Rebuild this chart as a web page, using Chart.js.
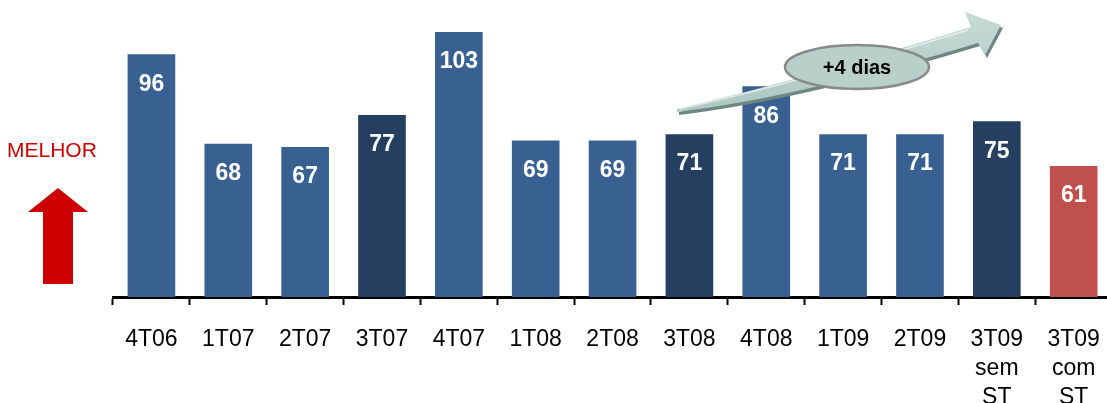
<!DOCTYPE html>
<html>
<head>
<meta charset="utf-8">
<script src="https://cdn.jsdelivr.net/npm/chart.js@4/dist/chart.umd.min.js"></script>
<style>
  html, body { margin: 0; padding: 0; background: #fff; overflow: hidden; }
  #wrap { width: 1107px; height: 403px; overflow: hidden; }
  canvas { display: block; }
</style>
</head>
<body>
<div id="wrap"><canvas id="prazoChart" width="1120" height="403"></canvas></div>
<script>
// Trimestres e valores (dias)
const trimestres = ['4T06', '1T07', '2T07', '3T07', '4T07', '1T08', '2T08', '3T08', '4T08', '1T09', '2T09',
    ['3T09', 'sem', 'ST'], ['3T09', 'com', 'ST']];
const dias = [96, 68, 67, 77, 103, 69, 69, 71, 86, 71, 71, 75, 61];
const tipoBarra = ['normal', 'normal', 'normal', 'terceiro', 'normal', 'normal', 'normal', 'terceiro',
    'normal', 'normal', 'normal', 'terceiro', 'destaque'];

const cores = { normal: '#386192', terceiro: '#253F61', destaque: '#C0504D' };

// Rótulos de valor dentro das barras
const rotulosValor = {
    id: 'rotulosValor',
    afterDatasetsDraw(chart) {
        const ctx = chart.ctx;
        const meta = chart.getDatasetMeta(0);
        ctx.save();
        ctx.fillStyle = '#fff';
        ctx.font = 'bold 23px "Liberation Sans", Arial, sans-serif';
        ctx.textAlign = 'center';
        ctx.textBaseline = 'middle';
        meta.data.forEach((bar, i) => {
            ctx.fillText(String(dias[i]), bar.x, bar.y + 30);
        });
        ctx.restore();
    }
};

// contorno da seta verde de tendência
function tracarSeta(ctx) {
    ctx.beginPath();
    ctx.moveTo(677, 109);
    ctx.quadraticCurveTo(800, 80, 971, 27);
    ctx.lineTo(965, 12);
    ctx.lineTo(1001, 25);
    ctx.lineTo(985, 55);
    ctx.lineTo(978, 43);
    ctx.quadraticCurveTo(800, 97, 677, 112);
    ctx.closePath();
}

// "MELHOR" com seta vermelha, e seta de tendência com "+4 dias"
const anotacoes = {
    id: 'anotacoes',
    afterDraw(chart) {
        const ctx = chart.ctx;
        ctx.save();

        ctx.fillStyle = '#CC0000';
        ctx.font = '21px "Liberation Sans", Arial, sans-serif';
        ctx.textAlign = 'left';
        ctx.textBaseline = 'middle';
        ctx.fillText('MELHOR', 7, 151);

        ctx.beginPath();
        ctx.moveTo(58, 188);
        ctx.lineTo(88, 212);
        ctx.lineTo(73, 212);
        ctx.lineTo(73, 284);
        ctx.lineTo(43, 284);
        ctx.lineTo(43, 212);
        ctx.lineTo(28, 212);
        ctx.closePath();
        ctx.fill();

        // sombra deslocada
        ctx.save();
        ctx.translate(2, 3);
        tracarSeta(ctx);
        ctx.fillStyle = '#6F8782';
        ctx.fill();
        ctx.restore();

        // corpo
        const grad = ctx.createLinearGradient(0, 20, 0, 112);
        grad.addColorStop(0, '#C4D9D3');
        grad.addColorStop(1, '#ADC7C1');
        tracarSeta(ctx);
        ctx.fillStyle = grad;
        ctx.fill();

        // reflexo claro no topo
        ctx.strokeStyle = 'rgba(255,255,255,0.6)';
        ctx.lineWidth = 1.5;
        ctx.beginPath();
        ctx.moveTo(680, 109);
        ctx.quadraticCurveTo(800, 82, 968, 30);
        ctx.stroke();

        // elipse
        ctx.beginPath();
        ctx.ellipse(857, 67, 72, 22, 0, 0, Math.PI * 2);
        ctx.fillStyle = '#B8CFCA';
        ctx.fill();
        ctx.strokeStyle = '#8A8A8A';
        ctx.lineWidth = 2.5;
        ctx.stroke();

        ctx.fillStyle = '#000';
        ctx.font = 'bold 20px "Liberation Sans", Arial, sans-serif';
        ctx.textAlign = 'center';
        ctx.fillText('+4 dias', 857, 68);

        ctx.restore();
    }
};

document.addEventListener('DOMContentLoaded', function () {
    const ctx = document.getElementById('prazoChart').getContext('2d');
    new Chart(ctx, {
        type: 'bar',
        data: {
            labels: trimestres,
            datasets: [{
                data: dias,
                backgroundColor: tipoBarra.map(t => cores[t]),
                borderWidth: 0,
                categoryPercentage: 1,
                barPercentage: 0.62
            }]
        },
        options: {
            responsive: false,
            animation: false,
            layout: { padding: { left: 113, right: 3, top: 0, bottom: 0 } },
            plugins: {
                legend: { display: false },
                tooltip: { enabled: false }
            },
            scales: {
                x: {
                    grid: {
                        display: true,
                        drawOnChartArea: false,
                        drawTicks: true,
                        tickLength: 8,
                        tickWidth: 2,
                        tickColor: '#000'
                    },
                    border: { display: true, color: '#000', width: 3 },
                    ticks: {
                        color: '#000',
                        padding: 20,
                        autoSkip: false,
                        maxRotation: 0,
                        font: { family: '"Liberation Sans", Arial, sans-serif', size: 23, lineHeight: 1.26 }
                    },
                    afterFit(scale) { scale.height = 106; }
                },
                y: {
                    display: false,
                    min: 20,
                    max: 113
                }
            }
        },
        plugins: [rotulosValor, anotacoes]
    });
});
</script>
</body>
</html>
